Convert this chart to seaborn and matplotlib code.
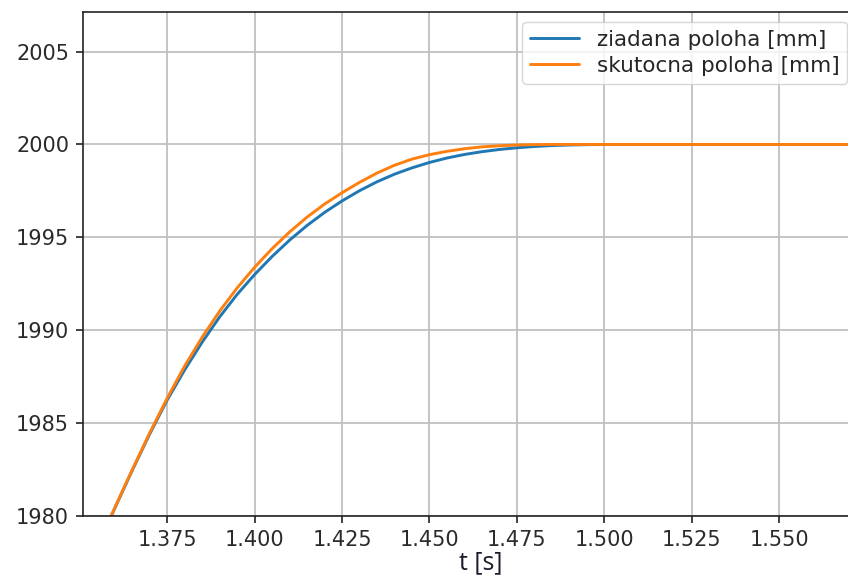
import numpy as np
import pandas as pd
import matplotlib
matplotlib.use("Agg")
import matplotlib.pyplot as plt
import seaborn as sns

# time axis [s]
t = [1.355, 1.360, 1.365, 1.370, 1.375, 1.380, 1.385, 1.390, 1.395, 1.400,
     1.405, 1.410, 1.415, 1.420, 1.425, 1.430, 1.435, 1.440, 1.445, 1.450,
     1.455, 1.460, 1.465, 1.470, 1.475, 1.480, 1.485, 1.490, 1.495, 1.500,
     1.580]

# ziadana poloha [mm]
ziadana = [1978.33, 1980.42, 1982.46, 1984.42, 1986.25, 1987.87, 1989.36, 1990.72, 1991.93, 1993.0,
           1993.97, 1994.85, 1995.64, 1996.34, 1996.96, 1997.51, 1997.99, 1998.4, 1998.74, 1999.03,
           1999.27, 1999.46, 1999.61, 1999.73, 1999.82, 1999.89, 1999.94, 1999.97, 1999.99, 2000.0,
           2000.0]

# skutocna poloha [mm]
skutocna = [1978.35, 1980.45, 1982.5, 1984.48, 1986.35, 1988.08, 1989.63, 1991.03, 1992.28, 1993.39,
            1994.39, 1995.29, 1996.09, 1996.79, 1997.4, 1997.96, 1998.46, 1998.88, 1999.21, 1999.45,
            1999.63, 1999.77, 1999.87, 1999.93, 1999.97, 1999.99, 2000.0, 2000.0, 2000.0, 2000.0,
            2000.0]

labels = ["ziadana poloha [mm]", "skutocna poloha [mm]"]
x_ticks = [1.375, 1.400, 1.425, 1.450, 1.475, 1.500, 1.525, 1.550]
y_ticks = [1980, 1985, 1990, 1995, 2000, 2005]

df = pd.DataFrame({
    "t": t + t,
    "poloha": ziadana + skutocna,
    "serie": [labels[0]] * len(t) + [labels[1]] * len(t),
})

sns.set_theme(style="ticks")
plt.rcParams["font.family"] = ["DejaVu Sans"]

fig = plt.figure(figsize=(8.48, 5.80), dpi=100)
ax = fig.add_axes([83 / 848, 64 / 580, (879 - 83) / 848, (516 - 12) / 580])

sns.lineplot(data=df, x="t", y="poloha", hue="serie", hue_order=labels,
             palette=["#1f77b4", "#ff7f0e"], linewidth=2.1, ax=ax, legend=True)

ax.set_xlim(1.3509, 1.5786)
ax.set_ylim(1980, 2007.13)
ax.set_xticks(x_ticks)
ax.set_xticklabels([f"{v:.3f}" for v in x_ticks])
ax.set_yticks(y_ticks)
ax.set_yticklabels([str(v) for v in y_ticks])
ax.grid(True, color="#c0c0c0", linewidth=1.3)
ax.tick_params(axis="both", labelsize=15, length=5, width=1.2, colors="#222222",
               labelcolor="#2a2a2a", pad=5)
for s in ax.spines.values():
    s.set_linewidth(1.2)
    s.set_color("#222222")

ax.set_ylabel("")
ax.set_xlabel("t [s]", fontsize=18, family=["Open Sans", "DejaVu Sans"],
              color="#1c1c2c", labelpad=0)

leg = ax.legend(loc="upper right", bbox_to_anchor=(847 / 848, 1 - 22 / 580),
                bbox_transform=fig.transFigure, borderaxespad=0, fontsize=15.5,
                handlelength=2.3, frameon=True, framealpha=0.8, edgecolor="#cccccc",
                fancybox=True, borderpad=0.35, labelspacing=0.3)
for line in leg.get_lines():
    line.set_linewidth(2.1)

fig.savefig("out.png", dpi=100)
